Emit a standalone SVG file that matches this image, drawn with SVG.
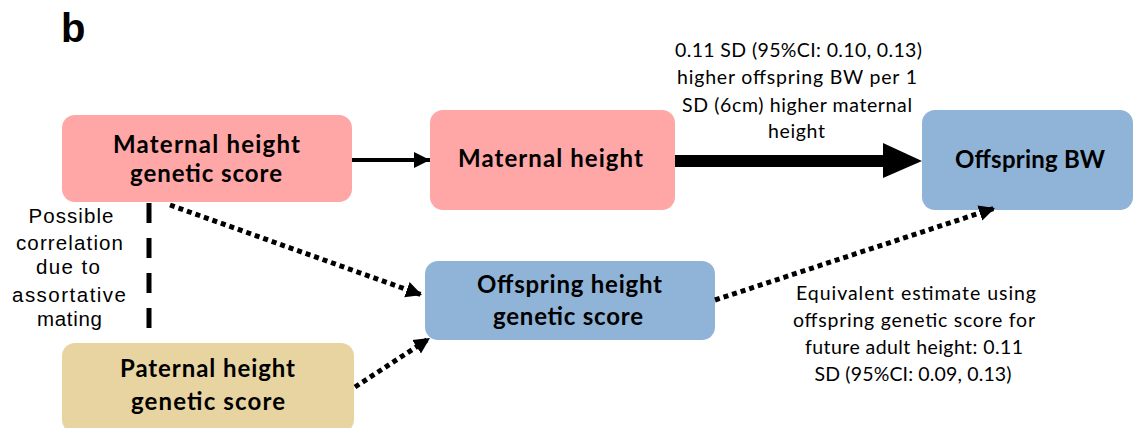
<svg xmlns="http://www.w3.org/2000/svg" width="1135" height="428" viewBox="0 0 1135 428">
<defs>
<style>
.node-title{font-family:Lato,"Liberation Sans",sans-serif;font-weight:bold;font-size:24px;fill:#000;text-anchor:middle}
.lbl{font-family:Lato,"Liberation Sans",sans-serif;font-size:19.5px;fill:#000;text-anchor:middle}
.lbl2{font-family:"Liberation Sans",Arial,sans-serif;font-size:20.5px;fill:#000;text-anchor:middle}
.dot{fill:none;stroke:#000;stroke-width:5;stroke-dasharray:5 4}
</style>
<marker id="ah" viewBox="0 0 10 10" refX="10" refY="5" markerWidth="4" markerHeight="4" orient="auto" markerUnits="strokeWidth">
<path d="M0,0 L10,5 L0,10 z" fill="#000"/>
</marker>
<marker id="ahs" viewBox="0 0 10 10" refX="10" refY="5" markerWidth="3.2" markerHeight="3.6" orient="auto" markerUnits="strokeWidth">
<path d="M0,0 L10,5 L0,10 z" fill="#000"/>
</marker>
</defs>
<rect width="1135" height="428" fill="#fff"/>
<text x="61" y="42" font-family="Liberation Sans,Arial,sans-serif" font-weight="bold" font-size="40">b</text>

<g id="n-maternal-score">
<rect x="62" y="115" width="290" height="87" rx="13" fill="#FFA6A6"/>
<text class="node-title" x="206.5" y="153" textLength="187" lengthAdjust="spacing">Maternal height</text>
<text class="node-title" x="206" y="181.5" textLength="152" lengthAdjust="spacing">genetic score</text>
</g>
<g id="n-maternal-height">
<rect x="430" y="110" width="245" height="100" rx="13" fill="#FFA6A6"/>
<text class="node-title" x="550.5" y="167" textLength="185" lengthAdjust="spacing">Maternal height</text>
</g>
<g id="n-offspring-bw">
<rect x="922" y="110" width="211" height="100" rx="13" fill="#8FB4D7"/>
<text class="node-title" x="1030" y="168" textLength="150" lengthAdjust="spacing">Offspring BW</text>
</g>
<g id="n-offspring-score">
<rect x="425" y="261" width="290" height="79" rx="13" fill="#8FB4D7"/>
<text class="node-title" x="569.5" y="293" textLength="185" lengthAdjust="spacing">Offspring height</text>
<text class="node-title" x="568" y="325" textLength="150" lengthAdjust="spacing">genetic score</text>
</g>
<g id="n-paternal-score">
<rect x="62" y="343" width="292" height="90" rx="13" fill="#E7D4A1"/>
<text class="node-title" x="207.5" y="377" textLength="175" lengthAdjust="spacing">Paternal height</text>
<text class="node-title" x="208" y="410" textLength="154" lengthAdjust="spacing">genetic score</text>
</g>

<g id="connectors">
<line x1="352" y1="160" x2="430" y2="160" stroke="#000" stroke-width="4" marker-end="url(#ah)"/>
<line x1="675" y1="161" x2="884" y2="161" stroke="#000" stroke-width="12"/>
<path d="M883,143 L922,161 L883,178 z" fill="#000"/>
<line x1="149" y1="203" x2="149" y2="328" stroke="#000" stroke-width="5" stroke-dasharray="20 15"/>
<line class="dot" x1="170" y1="205" x2="422" y2="295" marker-end="url(#ahs)"/>
<line class="dot" x1="355" y1="387" x2="430" y2="338" marker-end="url(#ahs)"/>
<line class="dot" x1="715" y1="300" x2="995" y2="208" marker-end="url(#ahs)"/>
</g>

<g id="labels">
<text class="lbl" x="798.5" y="57" textLength="247" lengthAdjust="spacing">0.11 SD (95%CI: 0.10, 0.13)</text>
<text class="lbl" x="797" y="84" textLength="240" lengthAdjust="spacing">higher offspring BW per 1</text>
<text class="lbl" x="797" y="112" textLength="230" lengthAdjust="spacing">SD (6cm) higher maternal</text>
<text class="lbl" x="796.5" y="138" textLength="57" lengthAdjust="spacing">height</text>
<text class="lbl" x="916" y="300" textLength="240" lengthAdjust="spacing">Equivalent estimate using</text>
<text class="lbl" x="914" y="327" textLength="242" lengthAdjust="spacing">offspring genetic score for</text>
<text class="lbl" x="914" y="354" textLength="218" lengthAdjust="spacing">future adult height: 0.11</text>
<text class="lbl" x="913" y="381" textLength="197" lengthAdjust="spacing">SD (95%CI: 0.09, 0.13)</text>
<text class="lbl2" x="71" y="223" textLength="85" lengthAdjust="spacing">Possible</text>
<text class="lbl2" x="69.5" y="250" textLength="107" lengthAdjust="spacing">correlation</text>
<text class="lbl2" x="68" y="274" textLength="64" lengthAdjust="spacing">due to</text>
<text class="lbl2" x="69" y="302" textLength="114" lengthAdjust="spacing">assortative</text>
<text class="lbl2" x="69.5" y="326" textLength="65" lengthAdjust="spacing">mating</text>
</g>
</svg>
